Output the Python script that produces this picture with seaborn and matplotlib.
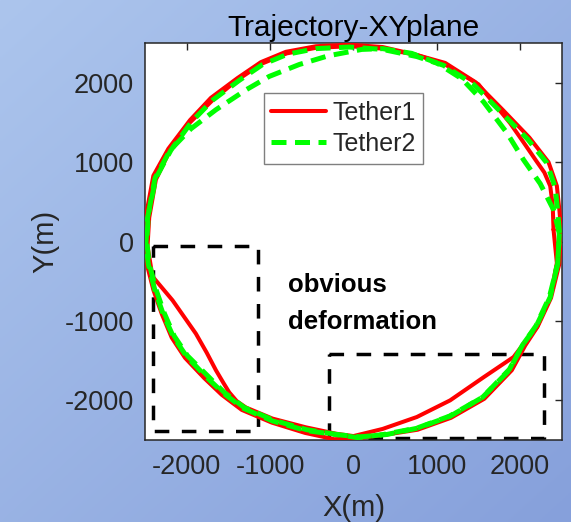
import numpy as np
import pandas as pd
import matplotlib
matplotlib.use("Agg")
import matplotlib.pyplot as plt
from matplotlib.lines import Line2D
import seaborn as sns

# ---- trajectory samples (metres) ----
RED_A_X = [2490, 2470, 2440, 2340, 2110, 1790, 1460, 1100, 760, 350, -50, -450, -810, -1110,
           -1390, -1710, -1960, -2220, -2400, -2490, -2510, -2480, -2400, -2300, -2180, -2020,
           -1790, -1580, -1340, -980, -580, -230, 100, 400, 770, 1170, 1570, 1900, 2060, 2210,
           2370, 2470, 2490]
RED_A_Y = [150, 400, 700, 1000, 1310, 1660, 2010, 2250, 2350, 2450, 2480, 2460, 2390, 2260,
           2060, 1810, 1530, 1170, 830, 320, -20, -280, -610, -910, -1210, -1465, -1720, -1930,
           -2120, -2280, -2410, -2490, -2470, -2430, -2370, -2220, -1980, -1620, -1310, -1070,
           -710, -280, 150]

RED_B_X = [2400, 2390, 2360, 2290, 2190, 2040, 1880, 1500, 1100, 760, 350, -50, -450, -800,
           -1100, -1400, -1690, -1960, -2200, -2370, -2450, -2470, -2410, -2290, -2170, -2030,
           -1890, -1760, -1650, -1560, -1490, -1400, -1290, -970, -570, -210, 0, 350, 760,
           1160, 1560, 1920, 2040, 2200, 2360, 2440, 2400]
RED_B_Y = [150, 460, 700, 870, 1020, 1250, 1490, 1980, 2230, 2350, 2430, 2460, 2440, 2370,
           2240, 2030, 1780, 1500, 1150, 780, 300, -60, -440, -590, -740, -950, -1160, -1400,
           -1620, -1780, -1900, -2010, -2090, -2230, -2340, -2420, -2450, -2360, -2210, -2000,
           -1710, -1455, -1290, -1080, -700, -270, 150]

GREEN_A_X = [2470, 2450, 2420, 2320, 2090, 1770, 1440, 1080, 760, 350, -50, -450, -790, -1090,
             -1370, -1690, -1940, -2190, -2370, -2470, -2490, -2460, -2380, -2280, -2160, -2000,
             -1770, -1560, -1320, -970, -570, -220, 80, 400, 770, 1160, 1550, 1870, 2030, 2190,
             2350, 2450, 2470]
GREEN_A_Y = [120, 380, 680, 990, 1290, 1630, 1980, 2220, 2330, 2420, 2450, 2430, 2360, 2230,
             2030, 1780, 1510, 1150, 800, 300, -30, -290, -620, -920, -1200, -1450, -1700, -1910,
             -2100, -2260, -2380, -2430, -2460, -2430, -2350, -2200, -1960, -1610, -1300, -1060,
             -700, -280, 120]

GREEN_B_X = [2470, 2400, 2240, 2040, 1840, 1560, 1300, 1000, 700, 350, 100, -300, -650, -1010,
             -1290, -1650, -1950, -2200, -2380, -2460, -2480, -2450, -2370, -2270, -2150, -1990,
             -1750, -1550, -1310, -960, -560, -200, 50, 360, 760, 1150, 1550, 1870, 2030, 2190,
             2360, 2450, 2470]
GREEN_B_Y = [100, 400, 730, 1030, 1370, 1760, 2050, 2250, 2370, 2430, 2420, 2340, 2230, 2080,
             1910, 1660, 1420, 1150, 800, 350, 0, -280, -600, -900, -1190, -1440, -1690, -1900,
             -2090, -2250, -2370, -2430, -2470, -2430, -2350, -2200, -1960, -1620, -1300, -1070,
             -700, -270, 100]

# highlighted regions: (x_min, x_max, y_min, y_max)
BOX_LEFT = (-2400, -1150, -2380, -60)
BOX_RIGHT = (-290, 2290, -2470, -1410)

TICKS = [-2000, -1000, 0, 1000, 2000]
LIMITS = (-2500, 2500)

# ---- assemble long-form table ----
frames = []
for tether, loop, xs, ys in [("Tether1", "a", RED_A_X, RED_A_Y),
                             ("Tether1", "b", RED_B_X, RED_B_Y),
                             ("Tether2", "a", GREEN_A_X, GREEN_A_Y),
                             ("Tether2", "b", GREEN_B_X, GREEN_B_Y)]:
    frames.append(pd.DataFrame({"x": xs, "y": ys, "tether": tether, "loop": loop}))
df = pd.concat(frames, ignore_index=True)

sns.set_theme(style="white")
plt.rcParams["font.family"] = ["Liberation Sans", "DejaVu Sans"]

fig = plt.figure(figsize=(5.71, 5.22), dpi=100)

# soft blue diagonal gradient behind everything
bg = fig.add_axes([0, 0, 1, 1], zorder=-10)
gy, gx = np.mgrid[0:1:200j, 0:1:200j]
t = (gx + gy) / 2.0
c0 = np.array([172, 197, 237]) / 255.0
c1 = np.array([134, 160, 219]) / 255.0
img = c0[None, None, :] * (1 - t[..., None]) + c1[None, None, :] * t[..., None]
bg.imshow(img, aspect="auto", extent=[0, 1, 0, 1], origin="upper")
bg.axis("off")

ax = fig.add_axes([0.254, 0.157, 0.730, 0.7605])
ax.set_facecolor("white")

# highlighted regions
for x0, x1, y0, y1 in (BOX_LEFT, BOX_RIGHT):
    ax.plot([x0, x1, x1, x0, x0], [y1, y1, y0, y0, y1], color="black", lw=2.5,
            dashes=(4.2, 3.6), zorder=2, dash_capstyle="butt")

red = df[df.tether == "Tether1"]
green = df[df.tether == "Tether2"]

n0 = len(ax.lines)
sns.lineplot(data=red, x="x", y="y", units="loop", estimator=None, sort=False,
             color="#ff0000", lw=2.9, ax=ax, legend=False, zorder=3)
n1 = len(ax.lines)
sns.lineplot(data=green, x="x", y="y", units="loop", estimator=None, sort=False,
             color="#00ff00", lw=3.6, ax=ax, legend=False, zorder=4)
for ln in ax.lines[n0:n1]:
    ln.set_solid_joinstyle("round")
for ln in ax.lines[n1:]:
    ln.set_dashes((3.0, 1.7))

ax.set_xlim(*LIMITS)
ax.set_ylim(*LIMITS)
ax.set_xticks(TICKS)
ax.set_yticks(TICKS)
ax.set_xticklabels([str(v) for v in TICKS])
ax.set_yticklabels([str(v) for v in TICKS])

tick_color = "#262626"
ax.tick_params(direction="in", top=True, right=True, length=5, width=1,
               labelsize=19.5, colors=tick_color, pad=8)
ax.tick_params(axis="x", pad=10)
for sp in ax.spines.values():
    sp.set_color(tick_color)
    sp.set_linewidth(1.1)
    sp.set_visible(True)

ax.set_xlabel("X(m)", fontsize=21, color=tick_color, labelpad=10)
ax.set_ylabel("Y(m)", fontsize=21, color=tick_color, labelpad=4)
ax.set_title("Trajectory-XYplane", fontsize=21.5, color="black", pad=5)

ax.text(-780, -640, "obvious", fontsize=18.5, fontweight="bold", color="black",
        va="baseline", ha="left", zorder=5)
ax.text(-780, -1100, "deformation", fontsize=18.5, fontweight="bold", color="black",
        va="baseline", ha="left", zorder=5)

handles = [Line2D([], [], color="#ff0000", lw=2.9),
           Line2D([], [], color="#00ff00", lw=3.6, dashes=(3.0, 1.7))]
leg = ax.legend(handles, ["Tether1", "Tether2"], loc="upper left",
                bbox_to_anchor=(0.285, 0.874), fontsize=18, frameon=True,
                fancybox=False, framealpha=1, edgecolor="#7f7f7f",
                handlelength=2.2, handletextpad=0.25, labelspacing=0.3,
                borderpad=0.3, borderaxespad=0.0)
leg.get_frame().set_linewidth(1.0)

fig.savefig("out.png", dpi=100)
